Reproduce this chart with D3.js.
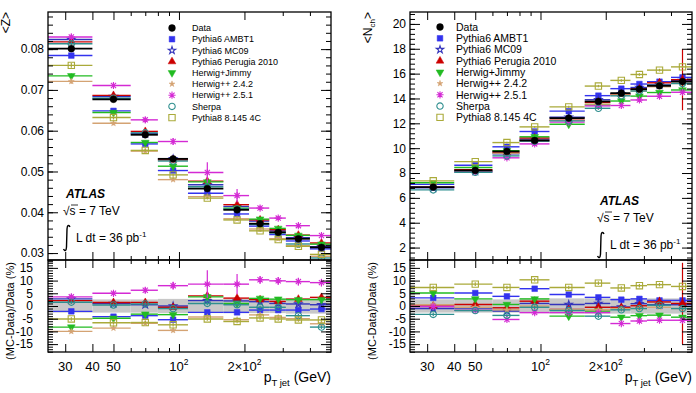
<!DOCTYPE html>
<html>
<head>
<meta charset="utf-8">
<script src="https://cdn.jsdelivr.net/npm/d3@7"></script>
<style>
body { margin: 0; background: #fff; }
svg { display: block; font-family: "Liberation Sans", Arial, Helvetica, sans-serif; }
</style>
</head>
<body>
<div id="chart"></div>
<script>
// bins in pT jet (GeV)
var binEdges = [25, 40, 60, 80, 110, 160, 210, 260, 310, 400, 500];
var binCenters = [32, 50, 70, 94, 135, 185, 236, 286, 354, 452];

var seriesNames = ["Data", "Pythia6 AMBT1", "Pythia6 MC09", "Pythia6 Perugia 2010", "Herwig+Jimmy",
                   "Herwig++ 2.4.2", "Herwig++ 2.5.1", "Sherpa", "Pythia8 8.145 4C"];

// <z> panel
var zData = [0.0801, 0.0677, 0.0590, 0.0531, 0.0458, 0.0406, 0.0372, 0.0351, 0.0335, 0.0314];
var zBand = [2.6, 2.6, 2.6, 2.8, 2.8, 2.8, 2.8, 2.8, 3.0, 3.0];
// (MC-Data)/Data in %
var zAMBT1    = [-2.1, -4.2, -3.8, -5.4, -2.5, -2.5, -1.6, -1.6, -1.6, -1.2];
var zMC09     = [ 2.8,  1.0,  0.5,  0.0,  2.1,  2.0,  1.7,  1.0,  0.8,  0.5];
var zPerugia  = [ 2.1,  1.4,  1.4, -0.5,  4.0,  3.1,  2.5,  1.8,  2.7,  3.4];
var zJimmy    = [-8.3, -4.8, -3.2, -3.4,  3.6,  1.0,  3.0,  2.7,  2.5,  2.5];
var zHpp242   = [-10.0, -8.7, -6.8, -9.6, -4.3, -5.4, -3.5, -4.5, -5.0, -7.0];
var zHpp251   = [ 3.6,  5.0,  6.2,  8.0,  8.6,  8.6, 10.3,  9.9,  9.6,  9.2];
var zSherpa   = [ 1.5,  0.4,  0.8, -1.0,  1.0,  0.5, -0.5, -0.5, -3.8, -8.3];
var zPythia8  = [-5.1, -6.6, -6.5, -7.4, -5.1, -6.1, -4.7, -5.1, -5.5, -5.5];
var zHpp251Err = [0.8, 1.0, 1.2, 1.5, 5.5, 4.0, 1.5, 1.5, 1.5, 1.5];

// <N_ch> panel
var nData = [6.87, 8.21, 9.74, 10.62, 12.42, 13.76, 14.43, 14.75, 15.02, 15.36];
var nBand = [2.6, 2.6, 2.6, 2.8, 3.0, 3.0, 3.0, 3.0, 3.0, 3.0];
var nAMBT1    = [ 3.2,  5.1,  3.8,  6.8,  4.5,  3.4,  2.5,  2.8,  2.2,  2.2];
var nMC09     = [-1.0, -0.8, -2.0,  1.0,  0.6,  1.0, -0.4,  0.9,  0.5,  0.5];
var nPerugia  = [ 0.0,  0.6, -0.7,  1.9, -1.4, -0.5, -0.6,  0.1,  1.6,  1.0];
var nJimmy    = [ 5.1,  2.8,  0.6,  2.8, -4.0, -2.0, -4.4, -3.8, -3.6, -4.4];
var nHpp242   = [ 0.5, -0.5, -1.5,  0.0, -1.5, -1.5, -1.0, -1.0, -0.5, -1.0];
var nHpp251   = [-0.2, -1.7, -5.3, -2.6, -2.6, -2.6, -6.9, -5.9, -5.6, -5.6];
var nSherpa   = [-3.3, -1.8, -3.7, -0.5, -1.8, -4.0, -1.5, -1.0,  0.3, -1.0];
var nPythia8  = [ 7.3,  8.6,  7.3, 10.3,  7.3,  9.0,  7.1,  8.0,  8.4,  7.7];
var nPerugiaErr = [0.6, 0.6, 0.8, 0.8, 1.0, 1.0, 1.2, 1.5, 2.0, 16.0];

// tick labels
var zTicks = [0.03, 0.04, 0.05, 0.06, 0.07, 0.08];
var nTicks = [2, 4, 6, 8, 10, 12, 14, 16, 18, 20];
var ratioTicks = [-15, -10, -5, 0, 5, 10, 15];
var xLabelTicks = [30, 40, 50, 100, 200];
var xLabelText = [["30"], ["40"], ["50"], ["10", "2"], ["2\u00d710", "2"]];
var xMinorTicks = [60, 70, 80, 90, 300, 400];

var W = 696, H = 393;
var mainTop = 12, mainBottom = 260, ratioBottom = 352;
var defaultErr = 0.7;

var triDown = {draw: function(ctx, size) { d3.symbolTriangle.draw(ctx, size); }};
var asterisk = {draw: function(ctx, size) {
  var r = Math.sqrt(size) * 0.6, d = r * 0.72;
  ctx.moveTo(-r, 0); ctx.lineTo(r, 0);
  ctx.moveTo(0, -r); ctx.lineTo(0, r);
  ctx.moveTo(-d, -d); ctx.lineTo(d, d);
  ctx.moveTo(-d, d); ctx.lineTo(d, -d);
}};

var styles = [
  {color: "#000000", symbol: d3.symbolCircle,   size: 36, fill: true},
  {color: "#3333ee", symbol: d3.symbolSquare,   size: 32, fill: true},
  {color: "#3333bb", symbol: d3.symbolStar,     size: 17, fill: false},
  {color: "#cc0000", symbol: d3.symbolTriangle, size: 26, fill: true},
  {color: "#22bb22", symbol: triDown,           size: 26, fill: true, rot: 180},
  {color: "#d4a373", symbol: d3.symbolStar,     size: 11, fill: true},
  {color: "#d42ad4", symbol: asterisk,          size: 36, fill: false, lineOnly: true},
  {color: "#2f8f8f", symbol: d3.symbolCircle,   size: 32, fill: false},
  {color: "#aaaa3a", symbol: d3.symbolSquare,   size: 40, fill: false}
];

var svg = d3.select("#chart").append("svg").attr("width", W).attr("height", H);

function marker(sel, st) {
  sel.attr("d", d3.symbol().type(st.symbol).size(st.size))
    .attr("fill", st.fill ? st.color : "none")
    .attr("stroke", st.color)
    .attr("stroke-width", st.fill ? 0.5 : 1.1);
}

function drawPanel(p, idx) {
  var g = svg.append("g");
  var x = d3.scaleLog().domain([25, 500]).range([p.x0, p.x1]);
  var y = d3.scaleLinear().domain(p.yDomain).range([mainBottom, mainTop]);
  var yr = d3.scaleLinear().domain([-18.1, 18.1]).range([ratioBottom, mainBottom]);

  var defs = svg.append("defs");
  defs.append("clipPath").attr("id", "cm" + idx).append("rect")
    .attr("x", p.x0).attr("y", mainTop).attr("width", p.x1 - p.x0).attr("height", mainBottom - mainTop);
  defs.append("clipPath").attr("id", "cr" + idx).append("rect")
    .attr("x", p.x0).attr("y", mainBottom).attr("width", p.x1 - p.x0).attr("height", ratioBottom - mainBottom);

  var gm = g.append("g").attr("clip-path", "url(#cm" + idx + ")");
  var gr = g.append("g").attr("clip-path", "url(#cr" + idx + ")");

  // data uncertainty band in the ratio
  gr.selectAll("rect.band").data(p.band).enter().append("rect")
    .attr("x", function(d, i) { return x(binEdges[i]); })
    .attr("width", function(d, i) { return x(binEdges[i + 1]) - x(binEdges[i]); })
    .attr("y", function(d) { return yr(d); })
    .attr("height", function(d) { return yr(-d) - yr(d); })
    .attr("fill", "#c8c8c8");

  var bins = d3.range(binCenters.length);

  // MC series
  p.ratios.forEach(function(r, k) {
    var st = styles[k + 1];
    var err = p.errs[k] || bins.map(function() { return defaultErr; });
    var mainVals = r.map(function(v, i) { return p.data[i] * (1 + v / 100); });

    [[gm, y, mainVals, function(i) { return p.data[i] * err[i] / 100; }],
     [gr, yr, r, function(i) { return err[i]; }]].forEach(function(c) {
      var layer = c[0], sc = c[1], vals = c[2], e = c[3];
      layer.selectAll(null).data(bins).enter().append("line")
        .attr("x1", function(i) { return x(binEdges[i]); })
        .attr("x2", function(i) { return x(binEdges[i + 1]); })
        .attr("y1", function(i) { return sc(vals[i]); })
        .attr("y2", function(i) { return sc(vals[i]); })
        .attr("stroke", st.color).attr("stroke-width", 1.4);
      layer.selectAll(null).data(bins).enter().append("line")
        .attr("x1", function(i) { return x(binCenters[i]); })
        .attr("x2", function(i) { return x(binCenters[i]); })
        .attr("y1", function(i) { return sc(vals[i] - e(i)); })
        .attr("y2", function(i) { return sc(vals[i] + e(i)); })
        .attr("stroke", st.color).attr("stroke-width", 1.2);
      layer.selectAll(null).data(bins).enter().append("path")
        .attr("transform", function(i) {
          return "translate(" + x(binCenters[i]) + "," + sc(vals[i]) + ")" + (st.rot ? " rotate(180)" : "");
        })
        .call(marker, st);
    });
  });

  // data points
  gm.selectAll(null).data(bins).enter().append("line")
    .attr("x1", function(i) { return x(binEdges[i]); })
    .attr("x2", function(i) { return x(binEdges[i + 1]); })
    .attr("y1", function(i) { return y(p.data[i]); })
    .attr("y2", function(i) { return y(p.data[i]); })
    .attr("stroke", "#000").attr("stroke-width", 1.8);
  gm.selectAll(null).data(bins).enter().append("path")
    .attr("transform", function(i) { return "translate(" + x(binCenters[i]) + "," + y(p.data[i]) + ")"; })
    .call(marker, styles[0]);

  // frame
  [[mainTop, mainBottom], [mainBottom, ratioBottom]].forEach(function(r) {
    g.append("rect").attr("x", p.x0).attr("y", r[0]).attr("width", p.x1 - p.x0).attr("height", r[1] - r[0])
      .attr("fill", "none").attr("stroke", "#000").attr("stroke-width", 1.3);
  });

  // y ticks
  function yTicks(sc, major, minor, fmt, pad) {
    g.append("g").attr("transform", "translate(" + p.x0 + ",0)")
      .call(d3.axisLeft(sc).tickValues(major).tickSize(-10).tickPadding(pad).tickFormat(fmt));
    g.append("g").attr("transform", "translate(" + p.x0 + ",0)")
      .call(d3.axisLeft(sc).tickValues(minor).tickSize(-5).tickFormat(""));
    g.append("g").attr("transform", "translate(" + p.x1 + ",0)")
      .call(d3.axisRight(sc).tickValues(major).tickSize(-10).tickFormat(""));
    g.append("g").attr("transform", "translate(" + p.x1 + ",0)")
      .call(d3.axisRight(sc).tickValues(minor).tickSize(-5).tickFormat(""));
  }
  yTicks(y, p.ticks, p.minor, p.fmt, 4);
  yTicks(yr, ratioTicks, d3.range(-18, 19, 1), function(d) { return d; }, p.ratioPad);

  // x ticks
  [[mainTop, "top"], [mainBottom, "bottom"], [mainBottom, "top"], [ratioBottom, "bottom"]].forEach(function(t) {
    var mk = t[1] === "top" ? d3.axisTop : d3.axisBottom;
    g.append("g").attr("transform", "translate(0," + t[0] + ")")
      .call(mk(x).tickValues(xLabelTicks).tickSize(8).tickFormat(""))
      .selectAll("line").attr("y2", t[1] === "top" ? 8 : -8);
    g.append("g").attr("transform", "translate(0," + t[0] + ")")
      .call(mk(x).tickValues(xMinorTicks).tickSize(4).tickFormat(""))
      .selectAll("line").attr("y2", t[1] === "top" ? 4 : -4);
  });

  g.selectAll(".domain").remove();
  g.selectAll(".tick line").attr("stroke", "#000").attr("stroke-width", 1);
  g.selectAll(".tick text").attr("font-size", 12).attr("font-family", "Liberation Sans, Arial, sans-serif").attr("fill", "#000");

  // x tick labels
  xLabelTicks.forEach(function(v, i) {
    var t = g.append("text").attr("x", x(v)).attr("y", 371).attr("text-anchor", "middle")
      .attr("font-size", 13);
    t.append("tspan").text(xLabelText[i][0]);
    if (xLabelText[i][1]) t.append("tspan").attr("dy", -6).attr("font-size", 8.5).text(xLabelText[i][1]);
  });

  // x title
  var xt = g.append("text").attr("x", p.x1).attr("y", 382).attr("text-anchor", "end").attr("font-size", 14);
  xt.append("tspan").text("p");
  xt.append("tspan").attr("dy", 4).attr("font-size", 9.5).text("T jet");
  xt.append("tspan").attr("dy", -4).text(" (GeV)");

  // y titles
  var yt = g.append("text").attr("transform", "translate(" + p.ylabX + "," + mainTop + ") rotate(-90)")
    .attr("text-anchor", "end").attr("font-size", 12);
  p.ylab.forEach(function(s) {
    var ts = yt.append("tspan").text(s[0]);
    if (s[1]) ts.attr("dy", s[1]).attr("font-size", s[2]);
  });
  g.append("text").attr("transform", "translate(" + (p.ylabX + 4) + "," + 311 + ") rotate(-90)")
    .attr("text-anchor", "middle").attr("font-size", 11).text("(MC-Data)/Data (%)");

  // legend
  seriesNames.forEach(function(name, k) {
    var ly = p.legY + k * p.legStep;
    var st = styles[k];
    g.append("path")
      .attr("transform", "translate(" + p.legX + "," + ly + ")" + (st.rot ? " rotate(180)" : ""))
      .call(marker, st);
    g.append("text").attr("x", p.legTextX).attr("y", ly + p.legFont * 0.36)
      .attr("font-size", p.legFont).text(name);
  });

  // ATLAS label
  var ax = p.atlasX, ay = p.atlasY;
  g.append("text").attr("x", ax + 3).attr("y", ay).attr("font-size", 12).attr("font-weight", "bold")
    .attr("font-style", "italic").text("ATLAS");
  g.append("text").attr("x", ax).attr("y", ay + 17).attr("font-size", 12).text("\u221as = 7 TeV");
  g.append("line").attr("x1", ax + 8).attr("x2", ax + 15).attr("y1", ay + 7).attr("y2", ay + 7)
    .attr("stroke", "#000").attr("stroke-width", 0.8);
  g.append("path")
    .attr("d", "M" + (ax + 7) + "," + (ay + 29) + " Q" + (ax + 4.5) + "," + (ay + 25) + " " + (ax + 4) + "," + (ay + 31) +
               " L" + (ax + 3.5) + "," + (ay + 49) + " Q" + (ax + 3) + "," + (ay + 55) + " " + (ax + 0.5) + "," + (ay + 51))
    .attr("fill", "none").attr("stroke", "#000").attr("stroke-width", 1.4);
  var lt = g.append("text").attr("x", ax + 13).attr("y", ay + 44).attr("font-size", 12);
  lt.append("tspan").text("L dt = 36 pb");
  lt.append("tspan").attr("dy", -5).attr("font-size", 8).text("-1");
}

drawPanel({
  x0: 48, x1: 331, yDomain: [0.0283, 0.0891], data: zData, band: zBand,
  ratios: [zAMBT1, zMC09, zPerugia, zJimmy, zHpp242, zHpp251, zSherpa, zPythia8],
  errs: [null, null, null, null, null, zHpp251Err, null, null],
  ticks: zTicks, minor: d3.range(0.028, 0.0891, 0.002), fmt: d3.format(".2f"), ratioPad: 15,
  ylab: [["<Z>"]], ylabX: 10,
  legX: 172, legTextX: 192, legY: 28, legStep: 11.2, legFont: 9,
  atlasX: 63, atlasY: 198
}, 0);

drawPanel({
  x0: 410, x1: 692, yDomain: [1.0, 20.96], data: nData, band: nBand,
  ratios: [nAMBT1, nMC09, nPerugia, nJimmy, nHpp242, nHpp251, nSherpa, nPythia8],
  errs: [null, null, nPerugiaErr, null, null, null, null, null],
  ticks: nTicks, minor: d3.range(1.2, 21, 0.4), fmt: function(d) { return d; }, ratioPad: 4,
  ylab: [["<N"], ["ch", 3, 8], [">", -3, 12]], ylabX: 372,
  legX: 440, legTextX: 456, legY: 27, legStep: 11.3, legFont: 10.5,
  atlasX: 597, atlasY: 205
}, 1);
</script>
</body>
</html>
